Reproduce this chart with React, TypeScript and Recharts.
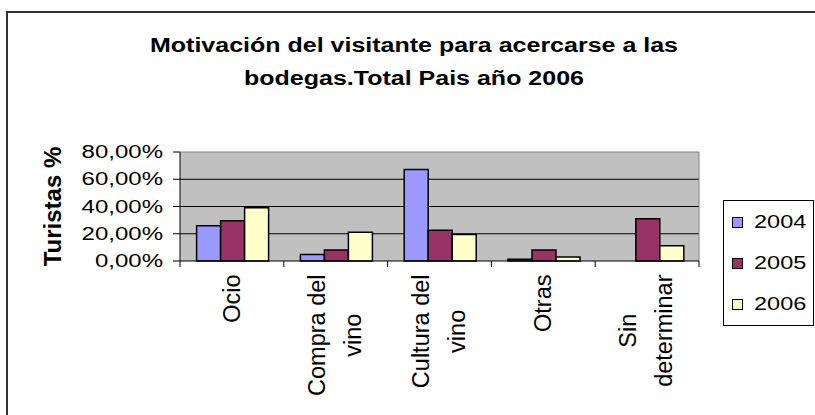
import React from 'react';
import { BarChart, Bar, XAxis, YAxis, CartesianGrid, Legend } from 'recharts';

const categories = ['Ocio', 'Compra del vino', 'Cultura del vino', 'Otras', 'Sin determinar'];
const categoryLines = [['Ocio'], ['Compra del', 'vino'], ['Cultura del', 'vino'], ['Otras'], ['Sin', 'determinar']];
const series2004 = [25.8, 4.7, 67.1, 1.2, 0];
const series2005 = [29.6, 8.0, 22.6, 8.0, 31.1];
const series2006 = [39.0, 21.1, 19.4, 3.0, 11.2];
const seriesNames = ['2004', '2005', '2006'];
const seriesColors = ['#9999FF', '#993366', '#FFFFCC'];
const yTicks = [0, 20, 40, 60, 80];
const chartTitle = ['Motivación del visitante para acercarse a las', 'bodegas.Total Pais año 2006'];
const yAxisTitle = 'Turistas %';

const seriesValues = [series2004, series2005, series2006];
const data = categories.map((c, i) => {
  const row: any = { name: c };
  seriesNames.forEach((s, k) => { row['y' + s] = seriesValues[k][i]; });
  return row;
});

const FONT = '"Liberation Sans", Arial, Helvetica, sans-serif';
const LABEL_SIZE = 23.5;
const SQUASH = 0.78;
const Y_MIN = yTicks[0];
const Y_MAX = yTicks[yTicks.length - 1];

let ctx: CanvasRenderingContext2D | null = null;
function textWidth(t: string, size: number): number {
  if (!ctx && typeof document !== 'undefined') ctx = document.createElement('canvas').getContext('2d');
  if (!ctx) return t.length * size * 0.5;
  ctx.font = `${size}px "Liberation Sans", Arial`;
  return ctx.measureText(t).width;
}

const fmtPct = (v: number) => v.toFixed(2).replace('.', ',') + '%';
const valueToY = (offset: any, v: number) => offset.top + offset.height * (1 - (v - Y_MIN) / (Y_MAX - Y_MIN));

const XTick = (props: any) => {
  const { x, y, payload, index, visibleTicksCount, width } = props;
  const half = payload && payload.offset ? payload.offset : width / visibleTicksCount / 2;
  const lines = categoryLines[index] || [String(payload.value)];
  const maxLen = Math.max(...lines.map((l: string) => textWidth(l, LABEL_SIZE)));
  const cy = y + 13.5 + maxLen / 2;
  return (
    <g>
      <line x1={x - half} x2={x - half} y1={y} y2={y + 6} stroke="#000" strokeWidth={1} />
      {index === visibleTicksCount - 1 && (
        <line x1={x + half} x2={x + half} y1={y} y2={y + 6} stroke="#000" strokeWidth={1} />
      )}
      {lines.map((l: string, i: number) => {
        const cx = x + (i - (lines.length - 1) / 2) * 36 - (lines.length > 1 ? 1 : 0);
        return (
          <text key={i} transform={`translate(${cx},${cy}) rotate(-90)`} textAnchor="middle"
            dominantBaseline="central" fontSize={LABEL_SIZE} fontFamily={FONT} fill="#000">{l}</text>
        );
      })}
    </g>
  );
};

const YTick = (props: any) => {
  const { x, y, payload } = props;
  return (
    <g transform={`translate(${x},${y}) scale(1,${SQUASH})`}>
      <text textAnchor="end" dominantBaseline="central" fontSize={24} fontFamily={FONT} fill="#000">
        {fmtPct(payload.value)}
      </text>
    </g>
  );
};

const YTitle = (props: any) => {
  const vb = props.viewBox || { x: 100, y: 152, width: 80, height: 109 };
  const cx = vb.x - 48;
  const cy = vb.y + vb.height / 2;
  return (
    <text transform={`translate(${cx},${cy}) rotate(-90)`} textAnchor="middle" dominantBaseline="central"
      fontSize={24} fontWeight="bold" fontFamily={FONT} fill="#000">{yAxisTitle}</text>
  );
};

const LegendBox = () => (
  <div style={{ position: 'relative', width: '100%', height: '100%' }}>
    {seriesNames.map((n, i) => (
      <div key={n} style={{ position: 'absolute', left: 0, top: 21 + i * 41 - 15, height: 30, display: 'flex', alignItems: 'center' }}>
        <span style={{ display: 'inline-block', width: 9, height: 9, border: '1px solid #000', background: seriesColors[i], marginLeft: 8 }} />
        <span style={{ display: 'inline-block', marginLeft: 11, fontSize: LABEL_SIZE, lineHeight: '30px', fontFamily: FONT, color: '#000', transform: `scaleY(${SQUASH})` }}>{n}</span>
      </div>
    ))}
  </div>
);

export default function App() {
  return (
    <div style={{ position: 'absolute', left: 0, top: 0, width: 815, height: 415, overflow: 'hidden', background: '#fff' }}>
      <div style={{ position: 'absolute', left: 6, top: 11, width: 900, height: 500, border: '2px solid #333' }} />
      {chartTitle.map((t, i) => (
        <div key={i} style={{ position: 'absolute', left: 0, width: 828, top: 30 + i * 33, height: 30, lineHeight: '30px', textAlign: 'center', fontFamily: FONT, fontWeight: 'bold', fontSize: 25, color: '#000', transform: `scaleY(${SQUASH})`, whiteSpace: 'nowrap' }}>{t}</div>
      ))}
      <div style={{ position: 'absolute', left: 0, top: 0 }}>
        <BarChart width={815} height={415} data={data} margin={{ top: 152, right: 116, bottom: 4, left: 100 }}
          barCategoryGap="16%" barGap={0}>
          <CartesianGrid vertical={false} fill="#C0C0C0" fillOpacity={1} stroke="#000"
            horizontalCoordinatesGenerator={({ offset }: any) => yTicks.slice(1, -1).map((v) => valueToY(offset, v))} />
          <CartesianGrid horizontal={true} vertical={true} stroke="#808080"
            horizontalCoordinatesGenerator={({ offset }: any) => [valueToY(offset, Y_MAX)]}
            verticalCoordinatesGenerator={({ offset }: any) => [offset.left + offset.width]} />
          <XAxis dataKey="name" height={150} interval={0} tickLine={false} tickSize={0} tickMargin={0}
            axisLine={{ stroke: '#000' }} tick={<XTick />} />
          <YAxis width={80} domain={[Y_MIN, Y_MAX]} ticks={yTicks} interval={0} tickSize={7} tickMargin={10}
            axisLine={{ stroke: '#000' }} tickLine={{ stroke: '#000' }} tick={<YTick />} label={YTitle} />
          <Legend layout="vertical" align="center" verticalAlign="middle" content={LegendBox}
            wrapperStyle={{ left: 723, top: 200, width: 91, height: 126, border: '1px solid #000', boxSizing: 'border-box', background: '#fff' }} />
          {seriesNames.map((s, k) => (
            <Bar key={s} dataKey={'y' + s} name={s} fill={seriesColors[k]} stroke="#000" strokeWidth={1.5} isAnimationActive={false} />
          ))}
        </BarChart>
      </div>
    </div>
  );
}
